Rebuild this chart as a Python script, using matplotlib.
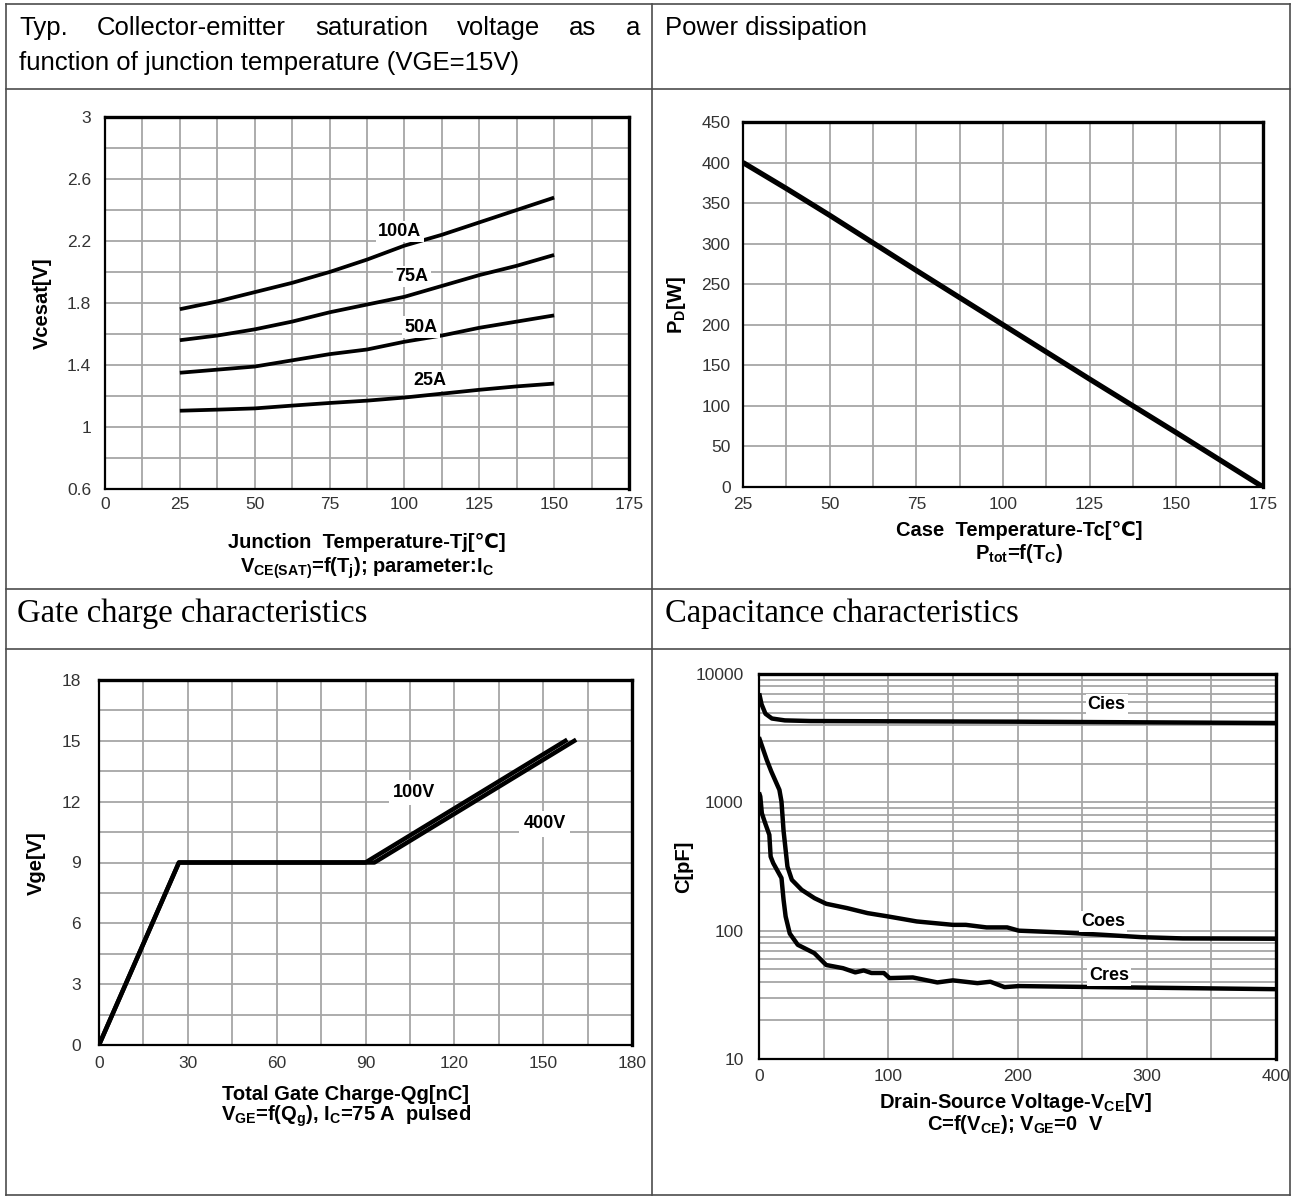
import matplotlib
matplotlib.use("Agg")
import matplotlib.pyplot as plt
from matplotlib.lines import Line2D
from matplotlib.ticker import MultipleLocator, LogLocator, NullFormatter, FixedLocator

plt.rcParams["font.family"] = ["Liberation Sans", "DejaVu Sans"]
plt.rcParams["mathtext.fontset"] = "custom"
plt.rcParams["mathtext.rm"] = "Liberation Sans"
plt.rcParams["mathtext.bf"] = "Liberation Sans:bold"

# ---- data ----
# Vcesat vs junction temperature
tj = [25, 37.5, 50, 62.5, 75, 87.5, 100, 112.5, 125, 137.5, 150]
vce_100a = [1.76, 1.81, 1.87, 1.93, 2.00, 2.08, 2.17, 2.24, 2.32, 2.40, 2.48]
vce_75a = [1.56, 1.59, 1.63, 1.68, 1.74, 1.79, 1.84, 1.91, 1.98, 2.04, 2.11]
vce_50a = [1.35, 1.37, 1.39, 1.43, 1.47, 1.50, 1.55, 1.59, 1.64, 1.68, 1.72]
vce_25a = [1.105, 1.112, 1.12, 1.138, 1.155, 1.17, 1.19, 1.215, 1.24, 1.262, 1.28]
vce_labels = ["100A", "75A", "50A", "25A"]
vce_ticks = [0.6, 1, 1.4, 1.8, 2.2, 2.6, 3]

# power dissipation vs case temperature
tc = [25, 37.5, 50, 75, 100, 125, 150, 175]
pd = [400, 368, 335, 267, 200, 133, 67, 0]

# gate charge
qg_100v = [0, 27, 90, 157.5]
vge_100v = [0, 9, 9, 15]
qg_400v = [0, 27, 93, 160.5]
vge_400v = [0, 9, 9, 15]

# capacitances vs VCE
v_cies = [0.5, 2, 5, 10, 20, 40, 100, 200, 300, 400]
c_cies = [6800, 5800, 4900, 4500, 4350, 4300, 4280, 4250, 4200, 4150]
v_coes = [0.5, 1, 6, 9.5, 15.8, 17.4, 19, 22, 25.4, 33, 43, 52, 68, 84, 100,
          122, 150, 160, 176, 192, 201, 233, 265, 296, 328, 400]
c_coes = [3100, 3000, 2140, 1740, 1250, 1013, 600, 316, 249, 208, 179, 162,
          150, 137, 129, 118, 111, 111, 106, 106, 100, 97, 93, 89, 87, 86.5]
v_cres = [0.5, 1, 2.2, 4.8, 8, 9, 11, 17.4, 19, 20.6, 23.8, 30, 42.8, 52, 65,
          74.5, 81, 87, 96.6, 101, 119, 138, 150, 169, 179, 190, 201, 265, 328, 400]
c_cres = [1150, 1110, 822, 687, 558, 378, 336, 257, 174, 129, 95, 77.6, 66.8,
          54, 51, 47.3, 49, 46.8, 46.8, 42.7, 43.2, 39.5, 41, 39, 40, 36.3, 37,
          36.3, 35.7, 35]

W, H = 1293, 1198
fig = plt.figure(figsize=(W / 100, H / 100), dpi=100)


def px_box(x0, y0, x1, y1):
    return [x0 / W, 1 - y1 / H, (x1 - x0) / W, (y1 - y0) / H]


def fx(x):
    return x / W


def fy(y):
    return 1 - y / H


GRID = "#a6a6a6"
TICK = "#333333"
TICK_FS = 12.5
LABEL_FS = 14.5
CURVE_FS = 13


def style_axes(ax, pad_x=6, pad_y=10):
    ax.set_axisbelow(True)
    ax.grid(which="both", color=GRID, linewidth=1.3)
    ax.tick_params(which="both", length=0, labelsize=TICK_FS, colors=TICK)
    ax.tick_params(axis="x", pad=pad_x)
    ax.tick_params(axis="y", pad=pad_y)
    for side in ["left", "bottom"]:
        ax.spines[side].set_linewidth(1.6)
    for side in ["top", "right"]:
        ax.spines[side].set_linewidth(2.4)


lbl_box = dict(facecolor="white", edgecolor="none", pad=1.5)

# ---- chart 1 ----
ax1 = fig.add_axes(px_box(105, 117, 629, 489))
for v, name in zip([vce_100a, vce_75a, vce_50a, vce_25a], vce_labels):
    ax1.plot(tj, v, color="black", linewidth=2.7, solid_capstyle="butt")
ax1.set_xlim(0, 175)
ax1.set_ylim(0.6, 3.0)
ax1.xaxis.set_major_locator(MultipleLocator(25))
ax1.xaxis.set_minor_locator(MultipleLocator(12.5))
ax1.yaxis.set_major_locator(FixedLocator(vce_ticks))
ax1.yaxis.set_minor_locator(MultipleLocator(0.2))
ax1.yaxis.set_major_formatter(lambda v, p: f"{v:g}")
style_axes(ax1)
for (x, y), name in zip([(98.5, 2.26), (102.5, 1.97), (105.5, 1.645), (108.5, 1.30)], vce_labels):
    ax1.text(x, y, name, ha="center", va="center", fontsize=CURVE_FS, fontweight="bold", bbox=lbl_box)
fig.text(fx(42), fy(303), "Vcesat[V]", rotation=90, ha="center", va="center", fontsize=LABEL_FS, fontweight="bold")
fig.text(fx(367), fy(543), "Junction  Temperature-Tj[℃]", ha="center", va="center", fontsize=LABEL_FS, fontweight="bold")
fig.text(fx(367), fy(568), r"V$_{\mathregular{CE(SAT)}}$=f(T$_{\mathregular{j}}$); parameter:I$_{\mathregular{C}}$",
         ha="center", va="center", fontsize=LABEL_FS, fontweight="bold")

# ---- chart 2 ----
ax2 = fig.add_axes(px_box(743, 122, 1263, 487))
ax2.plot(tc, pd, color="black", linewidth=3.8, solid_capstyle="butt")
ax2.set_xlim(25, 175)
ax2.set_ylim(0, 450)
ax2.xaxis.set_major_locator(MultipleLocator(25))
ax2.xaxis.set_minor_locator(MultipleLocator(12.5))
ax2.yaxis.set_major_locator(MultipleLocator(50))
style_axes(ax2, pad_x=7, pad_y=9)
fig.text(fx(677), fy(305), r"P$_{\mathregular{D}}$[W]", rotation=90, ha="center", va="center", fontsize=LABEL_FS, fontweight="bold")
fig.text(fx(1019), fy(530), "Case  Temperature-Tc[℃]", ha="center", va="center", fontsize=LABEL_FS, fontweight="bold")
fig.text(fx(1019), fy(554), r"P$_{\mathregular{tot}}$=f(T$_{\mathregular{C}}$)", ha="center", va="center", fontsize=LABEL_FS, fontweight="bold")

# ---- chart 3 ----
ax3 = fig.add_axes(px_box(99, 680, 632, 1045))
ax3.plot(qg_400v, vge_400v, color="black", linewidth=3.2)
ax3.plot(qg_100v, vge_100v, color="black", linewidth=3.2)
ax3.set_xlim(0, 180)
ax3.set_ylim(0, 18)
ax3.xaxis.set_major_locator(MultipleLocator(30))
ax3.xaxis.set_minor_locator(MultipleLocator(15))
ax3.yaxis.set_major_locator(MultipleLocator(3))
ax3.yaxis.set_minor_locator(MultipleLocator(1.5))
style_axes(ax3, pad_x=8, pad_y=13)
ax3.text(106.5, 12.45, "100V", ha="center", va="center", fontsize=CURVE_FS, fontweight="bold",
         bbox=dict(facecolor="white", edgecolor="none", pad=3))
ax3.text(150.5, 10.9, "400V", ha="center", va="center", fontsize=CURVE_FS, fontweight="bold",
         bbox=dict(facecolor="white", edgecolor="none", pad=3))
fig.text(fx(36), fy(863), "Vge[V]", rotation=90, ha="center", va="center", fontsize=LABEL_FS, fontweight="bold")
fig.text(fx(346), fy(1095), "Total Gate Charge-Qg[nC]", ha="center", va="center", fontsize=LABEL_FS, fontweight="bold")
fig.text(fx(346), fy(1116), r"V$_{\mathregular{GE}}$=f(Q$_{\mathregular{g}}$), I$_{\mathregular{C}}$=75 A  pulsed",
         ha="center", va="center", fontsize=LABEL_FS, fontweight="bold")

# ---- chart 4 ----
ax4 = fig.add_axes(px_box(759, 674, 1276, 1059))
ax4.set_yscale("log")
ax4.plot(v_cies, c_cies, color="black", linewidth=3.2)
ax4.plot(v_coes, c_coes, color="black", linewidth=3.2)
ax4.plot(v_cres, c_cres, color="black", linewidth=3.2)
ax4.set_xlim(0, 400)
ax4.set_ylim(10, 10000)
ax4.xaxis.set_major_locator(MultipleLocator(100))
ax4.xaxis.set_minor_locator(MultipleLocator(50))
ax4.yaxis.set_major_locator(FixedLocator([10, 100, 1000, 10000]))
ax4.yaxis.set_major_formatter(lambda v, p: f"{v:g}")
ax4.yaxis.set_minor_locator(LogLocator(base=10, subs=range(2, 10)))
ax4.yaxis.set_minor_formatter(NullFormatter())
style_axes(ax4, pad_x=7, pad_y=11)
for x, y, name in [(269, 5740, "Cies"), (266, 118, "Coes"), (271, 44.6, "Cres")]:
    ax4.text(x, y, name, ha="center", va="center", fontsize=CURVE_FS, fontweight="bold", bbox=lbl_box)
fig.text(fx(684), fy(867), "C[pF]", rotation=90, ha="center", va="center", fontsize=LABEL_FS, fontweight="bold")
fig.text(fx(1015), fy(1103), r"Drain-Source Voltage-V$_{\mathregular{CE}}$[V]", ha="center", va="center", fontsize=LABEL_FS, fontweight="bold")
fig.text(fx(1015), fy(1125), r"C=f(V$_{\mathregular{CE}}$); V$_{\mathregular{GE}}$=0  V", ha="center", va="center", fontsize=LABEL_FS, fontweight="bold")

# ---- table frame ----
LINE = "#4d4d4d"
for y in [4, 89, 589, 649, 1195]:
    fig.add_artist(Line2D([fx(6), fx(1290)], [fy(y), fy(y)], color=LINE, linewidth=1.2))
for x in [6, 652, 1290]:
    fig.add_artist(Line2D([fx(x), fx(x)], [fy(4), fy(1195)], color=LINE, linewidth=1.2))

# ---- cell headings ----
HEAD_FS = 18.5
words = "Typ. Collector-emitter saturation voltage as a".split()
fig.canvas.draw()
renderer = fig.canvas.get_renderer()
word_texts = [fig.text(0, fy(28), w, fontsize=HEAD_FS, va="center") for w in words]
widths = [t.get_window_extent(renderer).width for t in word_texts]
gap = (640 - 19 - sum(widths)) / (len(words) - 1)
x = 19
for t, w in zip(word_texts, widths):
    t.set_x(fx(x))
    x += w + gap
fig.text(fx(19), fy(63), "function of junction temperature (VGE=15V)", fontsize=HEAD_FS, va="center")
fig.text(fx(665), fy(28), "Power dissipation", fontsize=HEAD_FS, va="center")
fig.text(fx(17), fy(614), "Gate charge characteristics", fontsize=23.5, va="center", family="Liberation Serif")
fig.text(fx(665), fy(614), "Capacitance characteristics", fontsize=23.5, va="center", family="Liberation Serif")

fig.savefig("out.png", dpi=100)
